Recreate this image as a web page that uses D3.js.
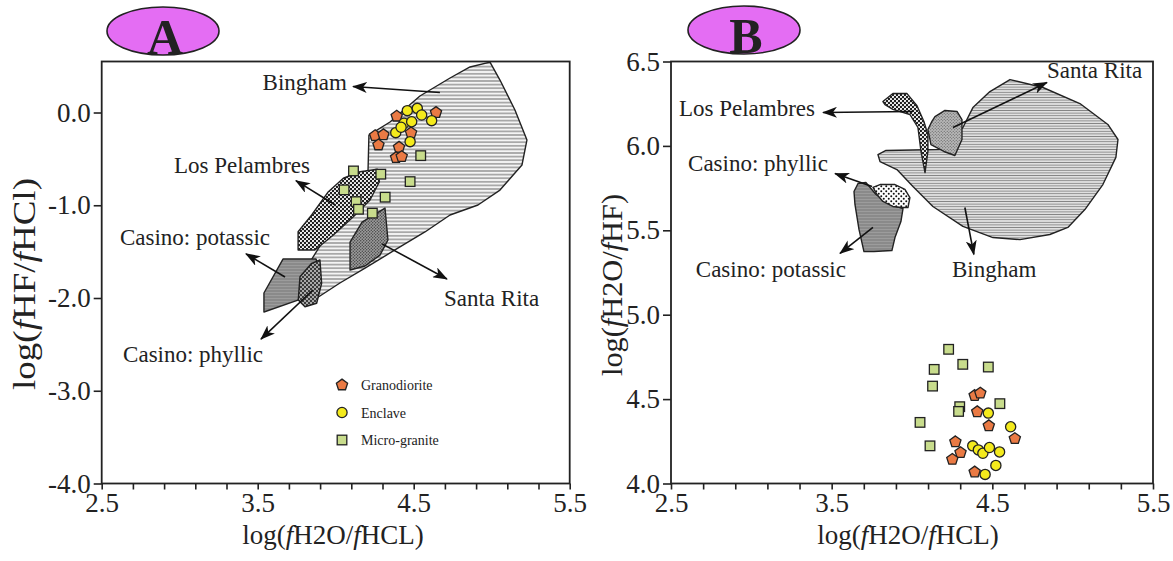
<!DOCTYPE html>
<html>
<head>
<meta charset="utf-8">
<script src="https://cdn.jsdelivr.net/npm/d3@7"></script>
<style>
  body { margin: 0; background: #fff; }
  svg text { font-family: "Liberation Serif", "Times New Roman", serif; fill: #222; }
</style>
</head>
<body>
<svg id="chart" width="1173" height="561"></svg>
<script>
// ---- DATA ----
// x = log(fH2O/fHCL), panel A y = log(fHF/fHCl), panel B y = log(fH2O/fHF)
const xTicks = [2.5, 3.5, 4.5, 5.5];
const yTicksA = [0, -1, -2, -3, -4];
const yTicksB = [4.0, 4.5, 5.0, 5.5, 6.0, 6.5];
const rockTypes = ["Granodiorite", "Enclave", "Micro-granite"];

const granoA = [[4.391, -0.04], [4.643, 0.0], [4.253, -0.25], [4.306, -0.24], [4.274, -0.35],
  [4.483, -0.22], [4.406, -0.375], [4.387, -0.487], [4.423, -0.476]];
const enclaveA = [[4.459, 0.02], [4.523, 0.045], [4.551, -0.027], [4.438, -0.116], [4.487, -0.099],
  [4.385, -0.217], [4.477, -0.314], [4.615, -0.088], [4.419, -0.159]];
const microA = [[4.545, -0.465], [4.114, -0.63], [4.289, -0.665], [4.477, -0.745], [4.054, -0.834],
  [4.317, -0.913], [4.131, -0.961], [4.146, -1.043], [4.235, -1.085]];

const granoB = [[4.39, 4.521], [4.425, 4.535], [4.406, 4.425], [4.478, 4.342], [4.64, 4.266],
  [4.27, 4.247], [4.302, 4.183], [4.251, 4.143], [4.39, 4.068]];
const enclaveB = [[4.475, 4.417], [4.614, 4.336], [4.378, 4.223], [4.413, 4.199], [4.441, 4.179],
  [4.482, 4.213], [4.545, 4.187], [4.522, 4.107], [4.455, 4.054]];
const microB = [[4.228, 4.795], [4.316, 4.706], [4.475, 4.69], [4.138, 4.676], [4.128, 4.577],
  [4.297, 4.455], [4.29, 4.427], [4.547, 4.473], [4.05, 4.362], [4.112, 4.223]];

// deposit fields, panel A
const binghamA = [[4.989, 0.544], [5.053, 0.35], [5.149, 0.027], [5.226, -0.296], [5.194, -0.566],
  [5.053, -0.836], [4.912, -0.997], [4.733, -1.105], [4.572, -1.288], [4.38, -1.482], [4.188, -1.677],
  [4.027, -1.838], [3.899, -1.978], [3.81, -2.075], [3.771, -2.0], [3.803, -1.698], [3.963, -1.267],
  [4.124, -0.889], [4.207, -0.642], [4.213, -0.243], [4.348, -0.102], [4.54, 0.178], [4.733, 0.372],
  [4.861, 0.491]];
const pelambresA = [[3.759, -1.482], [3.759, -1.285], [3.846, -1.105], [3.953, -0.854], [4.049, -0.709],
  [4.156, -0.638], [4.267, -0.612], [4.28, -0.746], [4.22, -0.943], [4.113, -1.123], [3.985, -1.321],
  [3.867, -1.482]];
const santaRitaA = [[4.092, -1.398], [4.169, -1.181], [4.316, -1.03], [4.335, -1.375], [4.284, -1.537],
  [4.188, -1.655], [4.092, -1.698]];
const potassicA = [[3.662, -1.58], [3.874, -1.58], [3.887, -1.655], [3.81, -1.892], [3.758, -2.022],
  [3.54, -2.151], [3.54, -1.946]];
const phyllicA = [[3.771, -1.771], [3.846, -1.626], [3.899, -1.59], [3.91, -1.841], [3.878, -2.057],
  [3.803, -2.094], [3.76, -2.022]];

// deposit fields, panel B
const binghamB = [[3.788, 5.949], [3.838, 5.973], [4.174, 5.979], [4.317, 6.109], [4.379, 6.227],
  [4.485, 6.322], [4.61, 6.393], [4.815, 6.346], [5.045, 6.251], [5.219, 6.127], [5.282, 6.038],
  [5.269, 5.932], [5.188, 5.771], [5.076, 5.623], [4.97, 5.517], [4.858, 5.475], [4.672, 5.445],
  [4.504, 5.457], [4.317, 5.523], [4.13, 5.641], [4.006, 5.759], [3.906, 5.86], [3.801, 5.907]];
const pelambresB = [[3.819, 6.263], [3.881, 6.31], [3.969, 6.31], [4.031, 6.238], [4.074, 6.145],
  [4.099, 6.066], [4.099, 5.967], [4.081, 5.842], [4.056, 5.967], [4.037, 6.109], [3.987, 6.186],
  [3.881, 6.216], [3.832, 6.244]];
const santaRitaB = [[4.143, 6.174], [4.205, 6.21], [4.28, 6.204], [4.311, 6.156], [4.311, 6.038],
  [4.267, 5.943], [4.199, 5.967], [4.118, 6.008], [4.099, 6.097], [4.124, 6.145]];
const potassicB = [[3.639, 5.73], [3.664, 5.777], [3.713, 5.783], [3.776, 5.712], [3.863, 5.653],
  [3.944, 5.629], [3.931, 5.552], [3.894, 5.457], [3.875, 5.38], [3.763, 5.374], [3.701, 5.374],
  [3.67, 5.505], [3.645, 5.653]];
const phyllicB = [[3.757, 5.754], [3.801, 5.771], [3.894, 5.771], [3.956, 5.742], [3.987, 5.694],
  [3.975, 5.635], [3.937, 5.635], [3.881, 5.641], [3.819, 5.671], [3.782, 5.712]];

// annotations: [label, label x, label y, anchor, arrow tail, arrow head]
const notesA = [
  ["Bingham", 4.072, 0.238, "end", [4.668, 0.216], [4.111, 0.281]],
  ["Los Pelambres", 3.835, -0.649, "end", [3.995, -0.995], [3.745, -0.735]],
  ["Casino: potassic", 3.579, -1.427, "end", [3.675, -1.773], [3.425, -1.524]],
  ["Casino: phyllic", 3.534, -2.692, "end", [3.854, -1.914], [3.521, -2.443]],
  ["Santa Rita", 4.694, -2.086, "start", [4.297, -1.416], [4.713, -1.795]]
];
const notesB = [
  ["Santa Rita", 4.84, 6.405, "start", [4.255, 6.109], [4.84, 6.376]],
  ["Los Pelambres", 3.396, 6.18, "end", [4.006, 6.204], [3.446, 6.198]],
  ["Casino: phyllic", 3.477, 5.854, "end", [3.751, 5.759], [3.521, 5.836]],
  ["Casino: potassic", 3.589, 5.226, "end", [3.757, 5.517], [3.552, 5.363]],
  ["Bingham", 4.249, 5.226, "start", [4.329, 5.635], [4.385, 5.357]]
];

// ---- SETUP ----
const svg = d3.select("#chart");
const defs = svg.append("defs");

defs.append("marker")
  .attr("id", "arrow").attr("viewBox", "0 0 15 11")
  .attr("refX", 14).attr("refY", 5.5)
  .attr("markerWidth", 15).attr("markerHeight", 11)
  .attr("markerUnits", "userSpaceOnUse").attr("orient", "auto")
  .append("path").attr("d", "M0,0 L15,5.5 L0,11 L4,5.5 Z").attr("fill", "#111");

// horizontal line hatching
function hatch(id, gap, bg, fg, sw) {
  const p = defs.append("pattern").attr("id", id)
    .attr("patternUnits", "userSpaceOnUse").attr("width", 8).attr("height", gap);
  p.append("rect").attr("width", 8).attr("height", gap).attr("fill", bg);
  p.append("line").attr("x1", 0).attr("x2", 8).attr("y1", gap / 2).attr("y2", gap / 2)
    .attr("stroke", fg).attr("stroke-width", sw);
}
hatch("hatchA", 3.6, "#f4f4f4", "#6a6a6a", 1);
hatch("hatchB", 2.6, "#e0e0e0", "#858585", 0.9);
hatch("gray", 3, "#8a8a8a", "#9c9c9c", 1);

// dotted patterns
function dots(id, size, bg, fg, r) {
  const p = defs.append("pattern").attr("id", id)
    .attr("patternUnits", "userSpaceOnUse").attr("width", size).attr("height", size);
  p.append("rect").attr("width", size).attr("height", size).attr("fill", bg);
  p.append("circle").attr("cx", size / 4).attr("cy", size / 4).attr("r", r).attr("fill", fg);
  p.append("circle").attr("cx", size * 3 / 4).attr("cy", size * 3 / 4).attr("r", r).attr("fill", fg);
}
dots("checker", 4, "#1e1e1e", "#fff", 1.1);
dots("crossDark", 4, "#3a3a3a", "#cfcfcf", 1.0);
dots("stippleA", 3, "#9c9c9c", "#3c3c3c", 0.7);
dots("stippleB", 3, "#b8b8b8", "#555", 0.6);
dots("whiteDots", 5, "#fff", "#111", 1.0);

function pentagon(r) {
  const pts = d3.range(5).map(i => {
    const a = -Math.PI / 2 + i * 2 * Math.PI / 5;
    return [r * Math.cos(a), r * Math.sin(a)];
  });
  return "M" + pts.join("L") + "Z";
}

const colors = { grano: "#ea7a44", enclave: "#f4ea1c", micro: "#c8dc8c" };

function addMarker(g, type, cx, cy) {
  if (type === "grano") {
    g.append("path").attr("d", pentagon(5.9)).attr("transform", `translate(${cx},${cy})`)
      .attr("fill", colors.grano).attr("stroke", "#222").attr("stroke-width", 1.3);
  } else if (type === "enclave") {
    g.append("circle").attr("cx", cx).attr("cy", cy).attr("r", 5.1)
      .attr("fill", colors.enclave).attr("stroke", "#222").attr("stroke-width", 1.3);
  } else {
    g.append("rect").attr("x", cx - 4.8).attr("y", cy - 4.8).attr("width", 9.6).attr("height", 9.6)
      .attr("fill", colors.micro).attr("stroke", "#222").attr("stroke-width", 1.3);
  }
}

function italicF(text, str) {
  str.split("*").forEach((s, i) => {
    text.append("tspan").style("font-style", i % 2 ? "italic" : "normal").text(s);
  });
}

function drawPanel(p) {
  const g = svg.append("g");
  const x = d3.scaleLinear().domain([2.5, 5.5]).range([p.left, p.right]);
  const y = d3.scaleLinear().domain(p.yDomain).range([p.bottom, p.top]);
  const line = d3.line().x(d => x(d[0])).y(d => y(d[1]));

  // fields
  p.shapes.forEach(s => {
    g.append("path").attr("d", line(s.pts) + "Z")
      .attr("fill", s.fill).attr("stroke", "#222").attr("stroke-width", 1.4)
      .attr("stroke-linejoin", "round");
  });

  // arrows + labels
  p.notes.forEach(n => {
    g.append("line")
      .attr("x1", x(n[4][0])).attr("y1", y(n[4][1]))
      .attr("x2", x(n[5][0])).attr("y2", y(n[5][1]))
      .attr("stroke", "#111").attr("stroke-width", 1.6)
      .attr("marker-end", "url(#arrow)");
    g.append("text").attr("x", x(n[1])).attr("y", y(n[2]))
      .attr("text-anchor", n[3]).style("font-size", "23px").text(n[0]);
  });

  // samples
  p.points.forEach(s => s.data.forEach(d => addMarker(g, s.type, x(d[0]), y(d[1]))));

  // axes
  const xAxis = d3.axisBottom(x)
    .tickValues(d3.range(0, 16).map(i => 2.5 + i * 0.2))
    .tickSize(6).tickPadding(3)
    .tickFormat(d => xTicks.some(t => Math.abs(t - d) < 1e-6) ? d.toFixed(1) : "");
  const gx = g.append("g").attr("transform", `translate(0,${p.bottom})`).call(xAxis);
  const yAxis = d3.axisLeft(y).tickValues(p.yTicks).tickSize(8).tickPadding(3)
    .tickFormat(d => d.toFixed(1));
  const gy = g.append("g").attr("transform", `translate(${p.left},0)`).call(yAxis);
  [gx, gy].forEach(a => {
    a.select(".domain").remove();
    a.selectAll(".tick line").attr("stroke", "#222").attr("stroke-width", 1.6);
    a.selectAll(".tick text").style("font-size", "27px")
      .style("font-family", "'Liberation Serif', serif").attr("fill", "#222");
  });

  // frame
  g.append("rect").attr("x", p.left).attr("y", p.top)
    .attr("width", p.right - p.left).attr("height", p.bottom - p.top)
    .attr("fill", "none").attr("stroke", "#222").attr("stroke-width", 1.8);

  // titles
  const xt = g.append("text").attr("x", p.xTitleX).attr("y", 544)
    .attr("text-anchor", "middle").style("font-size", "27px");
  italicF(xt, "log(*f*H2O/*f*HCL)");
  const yt = g.append("text")
    .attr("transform", `translate(${p.yTitleX},${p.yTitleY}) rotate(-90)`)
    .attr("text-anchor", "middle").style("font-size", p.yTitleSize + "px")
    .attr("textLength", p.yTitleLen).attr("lengthAdjust", "spacingAndGlyphs");
  italicF(yt, p.yTitle);

  // panel badge
  g.append("ellipse").attr("cx", p.badge[0]).attr("cy", p.badge[1])
    .attr("rx", 56).attr("ry", 24)
    .attr("fill", "#e46df3").attr("stroke", "#222").attr("stroke-width", 1.6);
  g.append("text").attr("x", p.badge[0] + 2).attr("y", p.badge[1] + 23)
    .attr("text-anchor", "middle").style("font-size", "50px").style("font-weight", "bold")
    .attr("fill", "#000").text(p.letter);

  return { g, x, y };
}

// ---- PANEL A ----
const A = drawPanel({
  left: 101.7, right: 569.7, top: 61.5, bottom: 483.5, yDomain: [-4, 0.55], yTicks: yTicksA,
  shapes: [
    { pts: binghamA, fill: "url(#hatchA)" },
    { pts: pelambresA, fill: "url(#checker)" },
    { pts: santaRitaA, fill: "url(#stippleA)" },
    { pts: potassicA, fill: "url(#gray)" },
    { pts: phyllicA, fill: "url(#crossDark)" }
  ],
  notes: notesA,
  points: [{ type: "micro", data: microA }, { type: "grano", data: granoA }, { type: "enclave", data: enclaveA }],
  xTitleX: 333, yTitle: "log(*f*HF/*f*HCl)", yTitleX: 35, yTitleY: 284, yTitleSize: 31, yTitleLen: 212,
  badge: [163, 31], letter: "A"
});

// legend (panel A)
const legendTypes = ["grano", "enclave", "micro"];
rockTypes.forEach((name, i) => {
  addMarker(A.g, legendTypes[i], 342, 385 + i * 27.5);
  A.g.append("text").attr("x", 361).attr("y", 390 + i * 27.5)
    .style("font-size", "14px").text(name);
});

// ---- PANEL B ----
drawPanel({
  left: 671, right: 1153, top: 61.5, bottom: 483.5, yDomain: [4, 6.5], yTicks: yTicksB,
  shapes: [
    { pts: binghamB, fill: "url(#hatchB)" },
    { pts: santaRitaB, fill: "url(#stippleB)" },
    { pts: pelambresB, fill: "url(#checker)" },
    { pts: potassicB, fill: "url(#gray)" },
    { pts: phyllicB, fill: "url(#whiteDots)" }
  ],
  notes: notesB,
  points: [{ type: "micro", data: microB }, { type: "grano", data: granoB }, { type: "enclave", data: enclaveB }],
  xTitleX: 908, yTitle: "log(*f*H2O/*f*HF)", yTitleX: 622, yTitleY: 285, yTitleSize: 30, yTitleLen: 182,
  badge: [744, 30], letter: "B"
});
</script>
</body>
</html>
